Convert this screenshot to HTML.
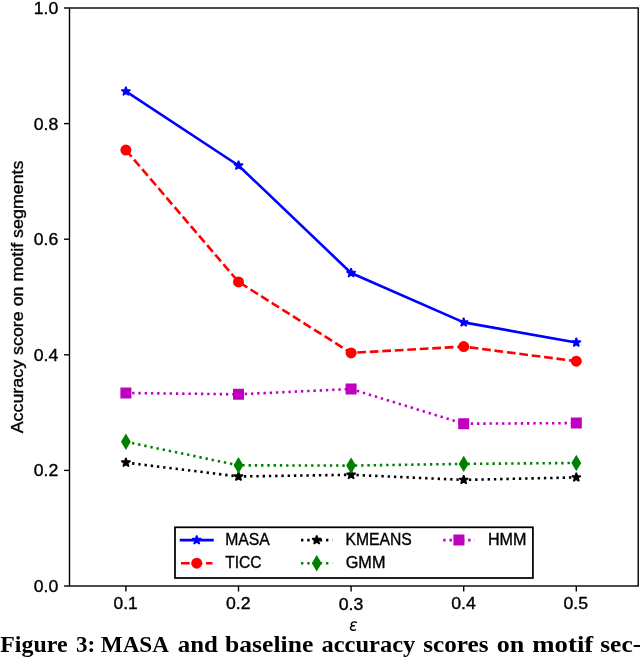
<!DOCTYPE html><html><head><meta charset="utf-8"><style>html,body{margin:0;padding:0;background:#fff;width:640px;height:659px;overflow:hidden}svg{display:block;will-change:transform}</style></head><body>
<svg width="640" height="659" viewBox="0 0 640 659">
<rect width="640" height="659" fill="#fff"/>
<line x1="64.00" y1="586.00" x2="69.5" y2="586.00" stroke="#000" stroke-width="1.4"/>
<text x="33.75" y="591.90" font-family="'Liberation Sans',sans-serif" font-size="16.30" textLength="24.52" lengthAdjust="spacingAndGlyphs" stroke="#000" stroke-width="0.35">0.0</text>
<line x1="64.00" y1="470.40" x2="69.5" y2="470.40" stroke="#000" stroke-width="1.4"/>
<text x="33.75" y="476.30" font-family="'Liberation Sans',sans-serif" font-size="16.30" textLength="24.52" lengthAdjust="spacingAndGlyphs" stroke="#000" stroke-width="0.35">0.2</text>
<line x1="64.00" y1="354.80" x2="69.5" y2="354.80" stroke="#000" stroke-width="1.4"/>
<text x="33.75" y="360.70" font-family="'Liberation Sans',sans-serif" font-size="16.30" textLength="24.52" lengthAdjust="spacingAndGlyphs" stroke="#000" stroke-width="0.35">0.4</text>
<line x1="64.00" y1="239.20" x2="69.5" y2="239.20" stroke="#000" stroke-width="1.4"/>
<text x="33.75" y="245.10" font-family="'Liberation Sans',sans-serif" font-size="16.30" textLength="24.52" lengthAdjust="spacingAndGlyphs" stroke="#000" stroke-width="0.35">0.6</text>
<line x1="64.00" y1="123.60" x2="69.5" y2="123.60" stroke="#000" stroke-width="1.4"/>
<text x="33.75" y="129.50" font-family="'Liberation Sans',sans-serif" font-size="16.30" textLength="24.52" lengthAdjust="spacingAndGlyphs" stroke="#000" stroke-width="0.35">0.8</text>
<line x1="64.00" y1="8.00" x2="69.5" y2="8.00" stroke="#000" stroke-width="1.4"/>
<text x="33.75" y="13.90" font-family="'Liberation Sans',sans-serif" font-size="16.30" textLength="24.52" lengthAdjust="spacingAndGlyphs" stroke="#000" stroke-width="0.35">1.0</text>
<line x1="125.90" y1="586.0" x2="125.90" y2="591.50" stroke="#000" stroke-width="1.4"/>
<text x="113.49" y="609.05" font-family="'Liberation Sans',sans-serif" font-size="16.30" textLength="24.17" lengthAdjust="spacingAndGlyphs" stroke="#000" stroke-width="0.35">0.1</text>
<line x1="238.50" y1="586.0" x2="238.50" y2="591.50" stroke="#000" stroke-width="1.4"/>
<text x="226.00" y="609.30" font-family="'Liberation Sans',sans-serif" font-size="16.30" textLength="24.57" lengthAdjust="spacingAndGlyphs" stroke="#000" stroke-width="0.35">0.2</text>
<line x1="351.10" y1="586.0" x2="351.10" y2="591.50" stroke="#000" stroke-width="1.4"/>
<text x="338.80" y="609.70" font-family="'Liberation Sans',sans-serif" font-size="16.30" textLength="24.57" lengthAdjust="spacingAndGlyphs" stroke="#000" stroke-width="0.35">0.3</text>
<line x1="463.70" y1="586.0" x2="463.70" y2="591.50" stroke="#000" stroke-width="1.4"/>
<text x="451.20" y="609.30" font-family="'Liberation Sans',sans-serif" font-size="16.30" textLength="24.57" lengthAdjust="spacingAndGlyphs" stroke="#000" stroke-width="0.35">0.4</text>
<line x1="576.30" y1="586.0" x2="576.30" y2="591.50" stroke="#000" stroke-width="1.4"/>
<text x="563.50" y="609.05" font-family="'Liberation Sans',sans-serif" font-size="16.30" textLength="24.57" lengthAdjust="spacingAndGlyphs" stroke="#000" stroke-width="0.35">0.5</text>
<path d="M356.9,622.7 C355.6,621.9 353.0,621.8 351.9,622.9 C350.8,624.0 351.2,625.6 353.2,625.8 L354.9,625.8 M353.2,625.8 C351.2,625.8 350.2,627.3 350.6,628.8 C351.0,630.4 353.6,630.8 356.0,629.7" fill="none" stroke="#000" stroke-width="1.45"/>
<text transform="translate(23.42,433.35) rotate(-90)" font-family="'Liberation Sans',sans-serif" font-size="15.92" textLength="272.85" lengthAdjust="spacingAndGlyphs" stroke="#000" stroke-width="0.35">Accuracy score on motif segments</text>
<defs><clipPath id="ax"><rect x="69.5" y="8.0" width="568.70" height="578.0"/></clipPath></defs>
<g clip-path="url(#ax)" fill="none">
<polyline points="125.90,91.40 238.50,165.50 351.10,273.00 463.70,322.40 576.30,342.50" stroke="#0000ff" stroke-width="2.6" stroke-linecap="square" stroke-linejoin="round"/>
<path d="M125.90,86.68 L126.96,89.94 L130.39,89.94 L127.61,91.96 L128.67,95.22 L125.90,93.20 L123.13,95.22 L124.19,91.96 L121.41,89.94 L124.84,89.94 Z" fill="#0000ff" stroke="#0000ff" stroke-width="1.573" stroke-linejoin="bevel"/>
<path d="M238.50,160.78 L239.56,164.04 L242.99,164.04 L240.21,166.06 L241.27,169.32 L238.50,167.30 L235.73,169.32 L236.79,166.06 L234.01,164.04 L237.44,164.04 Z" fill="#0000ff" stroke="#0000ff" stroke-width="1.573" stroke-linejoin="bevel"/>
<path d="M351.10,268.28 L352.16,271.54 L355.59,271.54 L352.81,273.56 L353.87,276.82 L351.10,274.80 L348.33,276.82 L349.39,273.56 L346.61,271.54 L350.04,271.54 Z" fill="#0000ff" stroke="#0000ff" stroke-width="1.573" stroke-linejoin="bevel"/>
<path d="M463.70,317.68 L464.76,320.94 L468.19,320.94 L465.41,322.96 L466.47,326.22 L463.70,324.20 L460.93,326.22 L461.99,322.96 L459.21,320.94 L462.64,320.94 Z" fill="#0000ff" stroke="#0000ff" stroke-width="1.573" stroke-linejoin="bevel"/>
<path d="M576.30,337.78 L577.36,341.04 L580.79,341.04 L578.01,343.06 L579.07,346.32 L576.30,344.30 L573.53,346.32 L574.59,343.06 L571.81,341.04 L575.24,341.04 Z" fill="#0000ff" stroke="#0000ff" stroke-width="1.573" stroke-linejoin="bevel"/>
<polyline points="125.90,150.10 238.50,281.90 351.10,352.90 463.70,346.60 576.30,361.20" stroke="#ff0000" stroke-width="2.6" stroke-dasharray="8.732 3.776" stroke-linejoin="round"/>
<circle cx="125.9" cy="150.1" r="5.51" fill="#ff0000"/>
<circle cx="238.5" cy="281.9" r="5.51" fill="#ff0000"/>
<circle cx="351.1" cy="352.9" r="5.51" fill="#ff0000"/>
<circle cx="463.7" cy="346.6" r="5.51" fill="#ff0000"/>
<circle cx="576.3" cy="361.2" r="5.51" fill="#ff0000"/>
<polyline points="125.90,462.60 238.50,476.50 351.10,474.80 463.70,479.90 576.30,477.40" stroke="#000000" stroke-width="2.6" stroke-dasharray="2.360 3.894" stroke-linejoin="round"/>
<path d="M125.90,457.88 L126.96,461.14 L130.39,461.14 L127.61,463.16 L128.67,466.42 L125.90,464.40 L123.13,466.42 L124.19,463.16 L121.41,461.14 L124.84,461.14 Z" fill="#000" stroke="#000" stroke-width="1.573" stroke-linejoin="bevel"/>
<path d="M238.50,471.78 L239.56,475.04 L242.99,475.04 L240.21,477.06 L241.27,480.32 L238.50,478.30 L235.73,480.32 L236.79,477.06 L234.01,475.04 L237.44,475.04 Z" fill="#000" stroke="#000" stroke-width="1.573" stroke-linejoin="bevel"/>
<path d="M351.10,470.08 L352.16,473.34 L355.59,473.34 L352.81,475.36 L353.87,478.62 L351.10,476.60 L348.33,478.62 L349.39,475.36 L346.61,473.34 L350.04,473.34 Z" fill="#000" stroke="#000" stroke-width="1.573" stroke-linejoin="bevel"/>
<path d="M463.70,475.18 L464.76,478.44 L468.19,478.44 L465.41,480.46 L466.47,483.72 L463.70,481.70 L460.93,483.72 L461.99,480.46 L459.21,478.44 L462.64,478.44 Z" fill="#000" stroke="#000" stroke-width="1.573" stroke-linejoin="bevel"/>
<path d="M576.30,472.68 L577.36,475.94 L580.79,475.94 L578.01,477.96 L579.07,481.22 L576.30,479.20 L573.53,481.22 L574.59,477.96 L571.81,475.94 L575.24,475.94 Z" fill="#000" stroke="#000" stroke-width="1.573" stroke-linejoin="bevel"/>
<polyline points="125.90,441.80 238.50,465.30 351.10,465.60 463.70,463.90 576.30,463.00" stroke="#008000" stroke-width="2.6" stroke-dasharray="2.360 3.894" stroke-linejoin="round"/>
<path d="M125.90,435.12 L129.91,441.80 L125.90,448.48 L121.89,441.80 Z" fill="#008000" stroke="#008000" stroke-width="1.573" stroke-linejoin="miter"/>
<path d="M238.50,458.62 L242.51,465.30 L238.50,471.98 L234.49,465.30 Z" fill="#008000" stroke="#008000" stroke-width="1.573" stroke-linejoin="miter"/>
<path d="M351.10,458.92 L355.11,465.60 L351.10,472.28 L347.09,465.60 Z" fill="#008000" stroke="#008000" stroke-width="1.573" stroke-linejoin="miter"/>
<path d="M463.70,457.22 L467.71,463.90 L463.70,470.58 L459.69,463.90 Z" fill="#008000" stroke="#008000" stroke-width="1.573" stroke-linejoin="miter"/>
<path d="M576.30,456.32 L580.31,463.00 L576.30,469.68 L572.29,463.00 Z" fill="#008000" stroke="#008000" stroke-width="1.573" stroke-linejoin="miter"/>
<polyline points="125.90,393.00 238.50,394.30 351.10,389.00 463.70,423.70 576.30,423.10" stroke="#bf00bf" stroke-width="2.6" stroke-dasharray="2.360 3.894" stroke-linejoin="round"/>
<path d="M121.18,388.28 h9.44 v9.44 h-9.44 Z" fill="#bf00bf" stroke="#bf00bf" stroke-width="1.573" stroke-linejoin="miter"/>
<path d="M233.78,389.58 h9.44 v9.44 h-9.44 Z" fill="#bf00bf" stroke="#bf00bf" stroke-width="1.573" stroke-linejoin="miter"/>
<path d="M346.38,384.28 h9.44 v9.44 h-9.44 Z" fill="#bf00bf" stroke="#bf00bf" stroke-width="1.573" stroke-linejoin="miter"/>
<path d="M458.98,418.98 h9.44 v9.44 h-9.44 Z" fill="#bf00bf" stroke="#bf00bf" stroke-width="1.573" stroke-linejoin="miter"/>
<path d="M571.58,418.38 h9.44 v9.44 h-9.44 Z" fill="#bf00bf" stroke="#bf00bf" stroke-width="1.573" stroke-linejoin="miter"/>
</g>
<rect x="175.0" y="527.3" width="357.90" height="50.70" fill="#fff" stroke="#000" stroke-width="1.75"/>
<line x1="181.0" y1="540.1" x2="212.46" y2="540.1" stroke="#0000ff" stroke-width="2.6" stroke-linecap="square"/>
<path d="M196.73,535.38 L197.79,538.64 L201.22,538.64 L198.44,540.66 L199.50,543.92 L196.73,541.90 L193.96,543.92 L195.02,540.66 L192.24,538.64 L195.67,538.64 Z" fill="#0000ff" stroke="#0000ff" stroke-width="1.573" stroke-linejoin="bevel"/>
<line x1="181.0" y1="563.2" x2="212.46" y2="563.2" stroke="#ff0000" stroke-width="2.6" stroke-dasharray="8.732 3.776"/>
<circle cx="196.73" cy="563.2" r="5.51" fill="#ff0000"/>
<line x1="301.0" y1="540.1" x2="332.46" y2="540.1" stroke="#000000" stroke-width="2.6" stroke-dasharray="2.360 3.894"/>
<path d="M316.73,535.38 L317.79,538.64 L321.22,538.64 L318.44,540.66 L319.50,543.92 L316.73,541.90 L313.96,543.92 L315.02,540.66 L312.24,538.64 L315.67,538.64 Z" fill="#000000" stroke="#000000" stroke-width="1.573" stroke-linejoin="bevel"/>
<line x1="301.0" y1="563.2" x2="332.46" y2="563.2" stroke="#008000" stroke-width="2.6" stroke-dasharray="2.360 3.894"/>
<path d="M316.73,556.52 L320.74,563.20 L316.73,569.88 L312.72,563.20 Z" fill="#008000" stroke="#008000" stroke-width="1.573"/>
<line x1="443.2" y1="540.1" x2="474.66" y2="540.1" stroke="#bf00bf" stroke-width="2.6" stroke-dasharray="2.360 3.894"/>
<path d="M454.21,535.38 h9.44 v9.44 h-9.44 Z" fill="#bf00bf" stroke="#bf00bf" stroke-width="1.573"/>
<text x="225.20" y="544.90" font-family="'Liberation Sans',sans-serif" font-size="16.30" textLength="44.59" lengthAdjust="spacingAndGlyphs" stroke="#000" stroke-width="0.35">MASA</text>
<text x="225.25" y="568.05" font-family="'Liberation Sans',sans-serif" font-size="16.30" textLength="36.28" lengthAdjust="spacingAndGlyphs" stroke="#000" stroke-width="0.35">TICC</text>
<text x="345.50" y="545.20" font-family="'Liberation Sans',sans-serif" font-size="16.30" textLength="66.36" lengthAdjust="spacingAndGlyphs" stroke="#000" stroke-width="0.35">KMEANS</text>
<text x="345.75" y="567.95" font-family="'Liberation Sans',sans-serif" font-size="16.30" textLength="39.66" lengthAdjust="spacingAndGlyphs" stroke="#000" stroke-width="0.35">GMM</text>
<text x="487.90" y="544.55" font-family="'Liberation Sans',sans-serif" font-size="16.30" textLength="38.54" lengthAdjust="spacingAndGlyphs" stroke="#000" stroke-width="0.35">HMM</text>
<rect x="69.5" y="8.0" width="568.70" height="578.0" fill="none" stroke="#000" stroke-width="1.4" stroke-linejoin="miter"/>
<text x="0.25" y="651.60" font-family="'Liberation Serif',serif" font-size="22.60" font-weight="bold" textLength="67.27" lengthAdjust="spacingAndGlyphs">Figure</text>
<text x="76.00" y="651.60" font-family="'Liberation Serif',serif" font-size="22.60" font-weight="bold" textLength="19.21" lengthAdjust="spacingAndGlyphs">3:</text>
<text x="100.75" y="651.85" font-family="'Liberation Serif',serif" font-size="22.60" font-weight="bold" textLength="68.26" lengthAdjust="spacingAndGlyphs">MASA</text>
<text x="177.75" y="651.60" font-family="'Liberation Serif',serif" font-size="22.60" font-weight="bold" textLength="40.03" lengthAdjust="spacingAndGlyphs">and</text>
<text x="225.00" y="651.60" font-family="'Liberation Serif',serif" font-size="22.60" font-weight="bold" textLength="88.26" lengthAdjust="spacingAndGlyphs">baseline</text>
<text x="321.50" y="651.60" font-family="'Liberation Serif',serif" font-size="22.60" font-weight="bold" textLength="93.76" lengthAdjust="spacingAndGlyphs">accuracy</text>
<text x="423.25" y="651.60" font-family="'Liberation Serif',serif" font-size="22.60" font-weight="bold" textLength="65.28" lengthAdjust="spacingAndGlyphs">scores</text>
<text x="496.75" y="651.60" font-family="'Liberation Serif',serif" font-size="22.60" font-weight="bold" textLength="27.58" lengthAdjust="spacingAndGlyphs">on</text>
<text x="532.25" y="651.60" font-family="'Liberation Serif',serif" font-size="22.60" font-weight="bold" textLength="61.00" lengthAdjust="spacingAndGlyphs">motif</text>
<text x="600.25" y="651.60" font-family="'Liberation Serif',serif" font-size="22.60" font-weight="bold" textLength="40.83" lengthAdjust="spacingAndGlyphs">sec-</text>
</svg></body></html>
